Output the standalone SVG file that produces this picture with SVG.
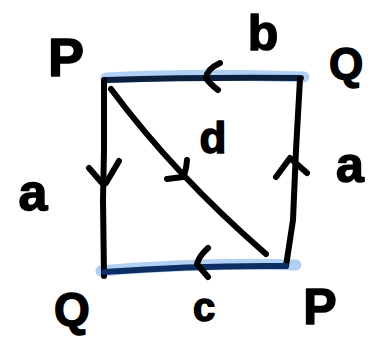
<svg xmlns="http://www.w3.org/2000/svg" width="371" height="337" viewBox="0 0 371 337">
<style>
.lbl{font-family:"Liberation Sans","DejaVu Sans",sans-serif;font-weight:bold;fill:#000;stroke:#000;stroke-width:1.5;stroke-linejoin:round;text-anchor:middle}
.edge{fill:none;stroke:#000;stroke-width:6;stroke-linecap:round;stroke-linejoin:round}
.hl{fill:none;stroke:#a9cbf3;stroke-width:11;stroke-linecap:round;opacity:0.9}
.blue1{stroke:#0b1f3f}
.blue2{stroke:#0d2e63}
.arr{fill:none;stroke:#000;stroke-width:6;stroke-linecap:round;stroke-linejoin:round}
</style>
<rect width="371" height="337" fill="#fff"/>
<g id="connectors">
  <path class="hl" d="M106 78 Q200 73 304 77"/>
  <path class="hl" d="M101 271 Q200 262 296 265"/>
  <path class="edge blue1" d="M106 80 Q200 77 301 78"/>
  <path class="arr blue1" d="M220 63 Q207 69 206 78 Q210 84 218 90"/>
  <path class="edge" d="M104 80 L104 150 L103 200 L104 276"/>
  <path class="arr" d="M89 168 L102 183 M119 161 L106 183"/>
  <path class="edge" d="M300 79 L296 150 L293 220 L286 266"/>
  <path class="arr" d="M276 177 L290 158 L307 173"/>
  <path class="edge blue2" d="M104 272 Q200 265 286 266"/>
  <path class="arr blue2" d="M208 248 Q199 256 197 264 Q202 270 208 277"/>
  <path class="edge" d="M111 89 Q175 175 266 254"/>
  <path class="arr" d="M187 160 Q186 172 183 177 L167 179"/>
  <text class="lbl" x="33" y="210" font-size="52">a</text>
  <text class="lbl" x="263" y="50" font-size="50">b</text>
  <text class="lbl" x="204" y="321" font-size="40">c</text>
  <text class="lbl" x="213" y="153" font-size="44">d</text>
  <text class="lbl" x="350" y="182" font-size="50">a</text>
</g>
<g id="node-P-top"><text class="lbl" x="66" y="76" font-size="54">P</text></g>
<g id="node-Q-top"><text class="lbl" x="346" y="79" font-size="44">Q</text></g>
<g id="node-Q-bottom"><text class="lbl" x="72" y="325" font-size="46">Q</text></g>
<g id="node-P-bottom"><text class="lbl" x="320" y="324" font-size="50">P</text></g>
</svg>
